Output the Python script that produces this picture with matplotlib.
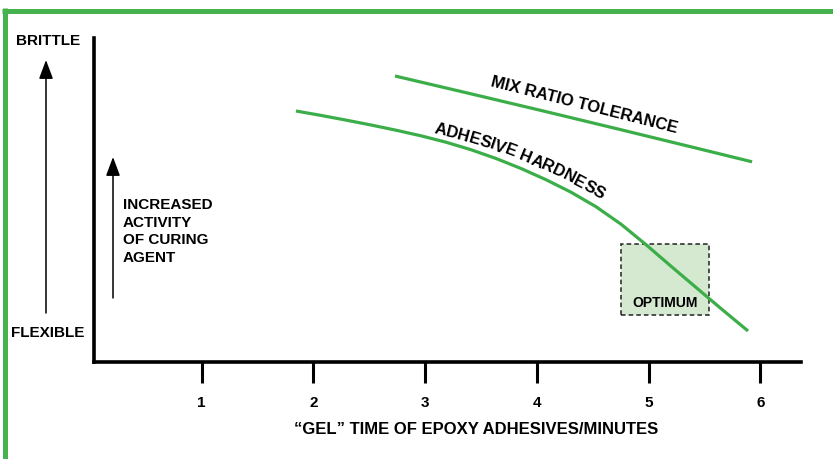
import numpy as np
import matplotlib
matplotlib.use("Agg")
import matplotlib.pyplot as plt
from matplotlib.patches import Rectangle, FancyArrowPatch, ArrowStyle
from matplotlib.lines import Line2D
from matplotlib.font_manager import FontProperties, findfont, get_font

plt.rcParams['font.family'] = ['Liberation Sans', 'DejaVu Sans']
plt.rcParams['font.weight'] = 'bold'

# ---------------- data ----------------
x_ticks = [1, 2, 3, 4, 5, 6]
x_tick_labels = ['1', '2', '3', '4', '5', '6']

hardness_x = [1.844, 2.068, 2.292, 2.516, 2.740, 2.963, 3.187, 3.411, 3.635, 3.859,
              4.082, 4.306, 4.530, 4.754, 4.978, 5.201, 5.425, 5.649, 5.891]
hardness_y = [7.747, 7.611, 7.466, 7.315, 7.154, 6.981, 6.784, 6.552, 6.281, 5.972,
              5.627, 5.241, 4.793, 4.253, 3.620, 2.957, 2.302, 1.648, 0.957]

tolerance_x = [2.731, 3.402, 4.073, 4.745, 5.416, 5.927]
tolerance_y = [8.827, 8.284, 7.735, 7.176, 6.611, 6.179]

optimum_x = [4.75, 5.54]
optimum_y = [1.45, 3.64]

x_label = '\u201cGEL\u201d TIME OF EPOXY ADHESIVES/MINUTES'
activity_lines = ['INCREASED', 'ACTIVITY', 'OF CURING', 'AGENT']

# ---------------- figure ----------------
W, H = 833, 459
GREEN = '#3cae49'
BORDER = '#45b24d'

fig = plt.figure(figsize=(W / 100, H / 100), dpi=100)


def fx(x):
    return x / W


def fy(y):
    return 1 - y / H


ax = fig.add_axes([fx(94), fy(362), (801 - 94) / W, (362 - 38) / H])
ax.set_xlim(0.036, 6.365)
ax.set_ylim(0, 10)

for s in ['top', 'right']:
    ax.spines[s].set_visible(False)
for s in ['left', 'bottom']:
    ax.spines[s].set_linewidth(2.6)
    ax.spines[s].set_capstyle('projecting')
    ax.spines[s].set_color('black')

ax.set_yticks([])
ax.set_xticks(x_ticks)
ax.set_xticklabels(x_tick_labels, fontsize=11, fontweight='bold')
ax.tick_params(axis='x', direction='out', length=15, width=2.2, pad=9.5, colors='black')

ax.set_xlabel(x_label, fontsize=12, fontweight='bold', va='center')
ax.xaxis.set_label_coords((476 - 94) / (801 - 94), -(430 - 362) / (362 - 38))

# optimum box
ax.add_patch(Rectangle((optimum_x[0], optimum_y[0]), optimum_x[1] - optimum_x[0],
                       optimum_y[1] - optimum_y[0], facecolor='#d5e8d0',
                       edgecolor='#222222', lw=1.1, ls=(0, (3, 2)), zorder=1))
ax.text(np.mean(optimum_x), 1.82, 'OPTIMUM', ha='center', va='center',
        fontsize=10, fontweight='bold', zorder=3)

# curves
ax.plot(hardness_x, hardness_y, color=GREEN, lw=2.3, zorder=2,
        solid_joinstyle='round', solid_capstyle='butt')
ax.plot(tolerance_x, tolerance_y, color=GREEN, lw=2.3, zorder=2,
        solid_joinstyle='round', solid_capstyle='butt')

# straight rotated label
fig.text(fx(584), fy(105.5), 'MIX RATIO TOLERANCE', rotation=-14.2,
         rotation_mode='anchor', ha='center', va='center', fontsize=12,
         fontweight='bold')


# curved label along a quadratic path (pixel coords)
def curved_text(text, p0, pm, p2, fontsize):
    prop = FontProperties(family='Liberation Sans', weight='bold', size=fontsize)
    font = get_font(findfont(prop))
    font.set_size(fontsize, 100)
    adv = np.array([font.load_char(ord(c)).linearHoriAdvance / 65536.0 for c in text])
    p0, pm, p2 = map(np.array, (p0, pm, p2))
    c = 2 * pm - (p0 + p2) / 2
    t = np.linspace(0, 1.3, 3000)[:, None]
    pts = (1 - t) ** 2 * p0 + 2 * (1 - t) * t * c + t ** 2 * p2
    tan = 2 * (1 - t) * (c - p0) + 2 * t * (p2 - c)
    seg = np.hypot(*np.diff(pts, axis=0).T)
    s = np.concatenate([[0], np.cumsum(seg)])
    centers = np.cumsum(adv) - adv / 2 - adv[0] / 2
    for ch, sc in zip(text, centers):
        i = np.searchsorted(s, sc)
        x, y = pts[i]
        dx, dy = tan[i]
        ang = np.degrees(np.arctan2(-dy, dx))
        fig.text(fx(x), fy(y), ch, rotation=ang, rotation_mode='anchor',
                 ha='center', va='center', fontsize=fontsize, fontweight='bold')


curved_text('ADHESIVE HARDNESS', (440, 130), (520, 155), (603, 195), 12)

# left side labels
fig.text(fx(16), fy(41), 'BRITTLE', ha='left', va='center', fontsize=11, fontweight='bold')
fig.text(fx(11), fy(333), 'FLEXIBLE', ha='left', va='center', fontsize=11, fontweight='bold')
for i, line in enumerate(activity_lines):
    fig.text(fx(123), fy(205 + 17.6 * i), line, ha='left', va='center',
             fontsize=11, fontweight='bold')

# arrows
style = ArrowStyle('-|>', head_length=1.15, head_width=0.43)
for xa, y0, y1 in [(46, 313, 60), (113, 298, 157)]:
    fig.add_artist(FancyArrowPatch((fx(xa), fy(y0)), (fx(xa), fy(y1)),
                                   transform=fig.transFigure, arrowstyle=style,
                                   mutation_scale=10, lw=1.1, color='black',
                                   shrinkA=0, shrinkB=0))

# green frame (top and left)
fig.add_artist(Line2D([fx(2), 1], [fy(10.5), fy(10.5)], transform=fig.transFigure,
                      color=BORDER, lw=3.6, solid_capstyle='butt'))
fig.add_artist(Line2D([fx(4.5), fx(4.5)], [0, fy(8)], transform=fig.transFigure,
                      color=BORDER, lw=3.6, solid_capstyle='butt'))

fig.savefig('out.png', dpi=100)
